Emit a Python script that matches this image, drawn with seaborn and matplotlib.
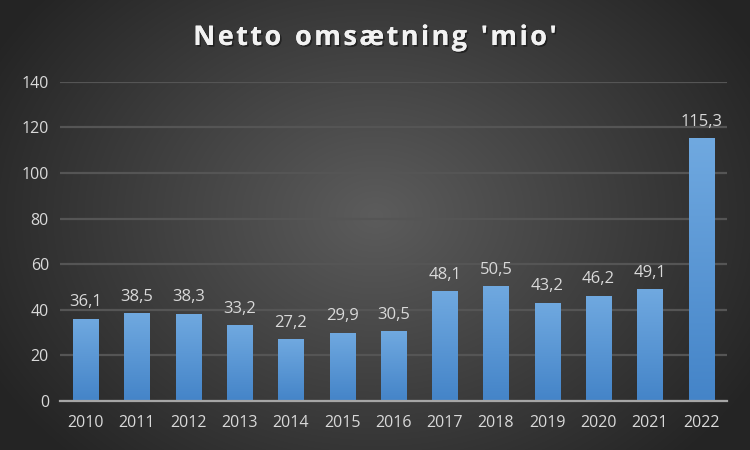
import numpy as np
import pandas as pd
import matplotlib
matplotlib.use("Agg")
import matplotlib.pyplot as plt
import matplotlib.patheffects as pe
from matplotlib.colors import LinearSegmentedColormap
import seaborn as sns

years = ["2010", "2011", "2012", "2013", "2014", "2015", "2016",
         "2017", "2018", "2019", "2020", "2021", "2022"]
values = [36.1, 38.5, 38.3, 33.2, 27.2, 29.9, 30.5,
          48.1, 50.5, 43.2, 46.2, 49.1, 115.3]
labels = ["36,1", "38,5", "38,3", "33,2", "27,2", "29,9", "30,5",
          "48,1", "50,5", "43,2", "46,2", "49,1", "115,3"]
title = "Netto omsætning 'mio'"
yticks = [0, 20, 40, 60, 80, 100, 120, 140]

sns.set_theme(style="dark")
plt.rcParams['font.family'] = ['Open Sans', 'DejaVu Sans']

fig = plt.figure(figsize=(7.5, 4.5), dpi=100)

# radial gradient background
bg = fig.add_axes([0, 0, 1, 1], zorder=-10)
yy, xx = np.mgrid[0:450, 0:750]
r = np.sqrt(((xx - 375) / 440.0) ** 2 + ((yy - 215) / 340.0) ** 2)
r = np.clip(r, 0, 1)
c0, c1 = 0x5c / 255, 0x24 / 255
shade = c0 + (c1 - c0) * r
bg.imshow(np.dstack([shade, shade, shade]), aspect="auto", extent=[0, 1, 0, 1], origin="upper")
bg.axis("off")

ax = fig.add_axes([0.08, 0.109, 0.889, 0.709])
ax.set_facecolor("none")
df = pd.DataFrame({"year": years, "value": values})
sns.barplot(data=df, x="year", y="value", color="#5b9bd5", width=0.49,
            ax=ax, saturation=1, zorder=3, linewidth=0, edgecolor="none")

ax.set_ylim(0, 140)
ax.set_yticks(yticks)
ax.set_xlim(-0.5, len(years) - 0.5)
ax.grid(axis="y", color="#555555", linewidth=1.6, zorder=0)
ax.grid(axis="x", visible=False)
for s in ["top", "right", "left"]:
    ax.spines[s].set_visible(False)
ax.spines["bottom"].set_color("#a6a6a6")
ax.spines["bottom"].set_linewidth(1.6)
ax.spines["bottom"].set_zorder(4)
ax.set_xlabel("")
ax.set_ylabel("")
ax.tick_params(axis="both", colors="#d9d9d9", labelsize=11.5, length=0)
ax.tick_params(axis="x", pad=10)
ax.tick_params(axis="y", pad=8)

# gradient fill on bars
cmap = LinearSegmentedColormap.from_list("bar", ["#4484c8", "#70a9e0"])
grad = np.linspace(0, 1, 256).reshape(-1, 1)
for patch in list(ax.patches):
    x0, y0 = patch.get_x(), patch.get_y()
    w, h = patch.get_width(), patch.get_height()
    im = ax.imshow(grad, cmap=cmap, aspect="auto", origin="lower",
                   extent=[x0, x0 + w, y0, y0 + h], zorder=3.5)
    im.set_clip_path(patch)
ax.set_xlim(-0.5, len(years) - 0.5)
ax.set_ylim(0, 140)

for i, (v, lab) in enumerate(zip(values, labels)):
    ax.annotate(lab, (i, v), xytext=(0, 6), textcoords="offset points",
                ha="center", va="bottom", color="#d9d9d9", fontsize=12, zorder=5)

# title with letter spacing
fig.canvas.draw()
renderer = fig.canvas.get_renderer()
tsize = 19.5
spacing = 2.4  # px extra
widths = []
for ch in title:
    t = fig.text(0, 0, ch if ch != " " else "n", fontsize=tsize, fontweight="bold")
    wpx = t.get_window_extent(renderer).width
    if ch == " ":
        wpx *= 0.5
    widths.append(wpx)
    t.remove()
total = sum(widths) + spacing * (len(title) - 1)
xpx = 375 - total / 2
for ch, wpx in zip(title, widths):
    if ch != " ":
        fig.text(xpx / 750, 1 - 38 / 450, ch, fontsize=tsize, fontweight="bold",
                 color="#f2f2f2", ha="left", va="center",
                 path_effects=[pe.withSimplePatchShadow(offset=(1.2, -1.2), shadow_rgbFace="#111111", alpha=0.6),
                               pe.Normal()])
    xpx += wpx + spacing

fig.savefig("out.png", dpi=100)
